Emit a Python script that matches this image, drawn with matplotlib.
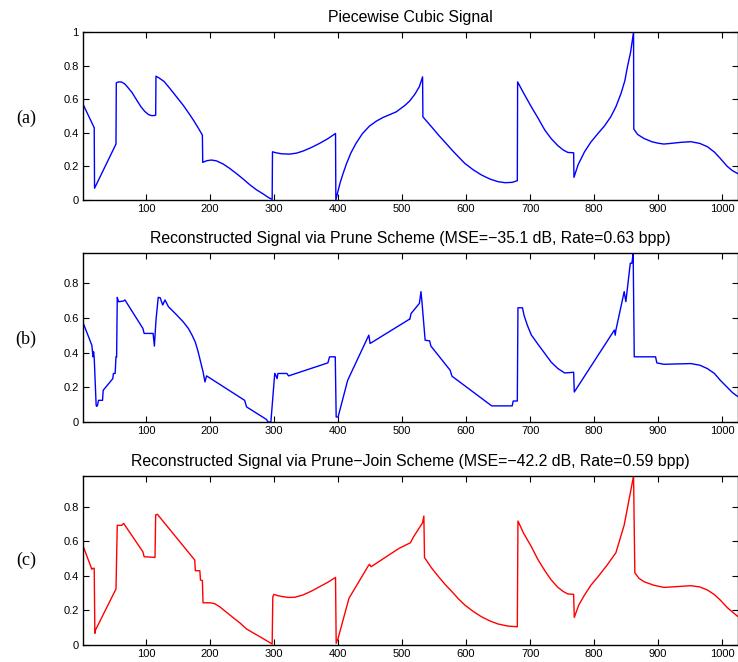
import matplotlib
matplotlib.use("Agg")
import matplotlib.pyplot as plt
from matplotlib.ticker import FixedLocator, FuncFormatter

# ---------------- data ----------------
orig_x = [1, 19, 19.5, 53, 53.5, 57, 62, 67, 72, 78, 85, 92, 98, 104, 109, 113, 115,
          115.5, 120, 128, 137, 147, 158, 167, 174, 181, 188,
          188.5, 195, 202, 210, 220, 230, 241, 252, 262, 272, 283, 291, 297,
          297.5, 303, 312, 324, 335, 345, 358, 371, 384, 396,
          396.5, 399, 403, 408, 413, 420, 428, 438, 449, 460, 470, 480, 491, 505, 512, 520, 527, 532,
          532.5, 545, 557, 568, 578, 588, 598, 611, 624, 637, 650, 661, 672, 680,
          680.5, 690, 702, 712, 723, 733, 743.5, 752, 759, 768,
          768.5, 775, 785, 795, 806, 816, 826, 834, 842, 848, 852, 857, 861.6,
          862, 868, 878, 890, 900, 909, 920, 935, 951, 965, 977, 988, 997, 1008, 1016, 1024]
orig_y = [0.574, 0.43, 0.07, 0.333, 0.697, 0.703, 0.702, 0.69, 0.668, 0.64, 0.597, 0.555, 0.527, 0.508, 0.502, 0.503, 0.505,
          0.737, 0.727, 0.706, 0.665, 0.617, 0.564, 0.515, 0.475, 0.432, 0.386,
          0.224, 0.234, 0.238, 0.233, 0.215, 0.19, 0.158, 0.124, 0.091, 0.062, 0.036, 0.015, 0.004,
          0.287, 0.281, 0.275, 0.273, 0.279, 0.291, 0.312, 0.337, 0.365, 0.396,
          0.0, 0.04, 0.1, 0.16, 0.215, 0.28, 0.337, 0.395, 0.44, 0.47, 0.491, 0.507, 0.525, 0.565, 0.59, 0.63, 0.675, 0.733,
          0.495, 0.44, 0.386, 0.34, 0.297, 0.257, 0.218, 0.18, 0.149, 0.125, 0.109, 0.103, 0.105, 0.115,
          0.703, 0.635, 0.554, 0.49, 0.416, 0.365, 0.323, 0.297, 0.283, 0.281,
          0.135, 0.21, 0.287, 0.345, 0.396, 0.44, 0.495, 0.555, 0.634, 0.71, 0.792, 0.88, 1.0,
          0.422, 0.39, 0.366, 0.347, 0.338, 0.333, 0.337, 0.343, 0.347, 0.337, 0.317, 0.285, 0.248, 0.2, 0.175, 0.158]

prune_x = [1, 15.3, 17, 18, 19, 22, 23, 24, 25.7, 32, 33, 48, 49, 51.7, 53, 54, 55, 57, 64.7,
           67, 95, 97, 111, 113, 115.5, 119, 122, 126, 129.6, 135, 148, 158, 166, 172, 177,
           181, 185, 189, 192, 194.5, 254, 257, 288, 290.6, 295, 301, 302.6, 304.7, 306, 320, 322.6,
           384, 386.7, 395.6, 397, 400, 415, 448, 450, 511, 512, 514, 527, 529.5, 531,
           536, 543, 545, 575, 578, 640, 672, 673.6, 680, 681, 688, 690.7, 696, 702, 704.7,
           712, 723, 733, 743.5, 754, 768, 769, 831.6, 833, 834, 847, 849.6, 856.5, 859, 861,
           862.7, 896, 898, 909, 930, 951, 965, 977, 988, 997, 1008, 1016, 1024]
prune_y = [0.578, 0.443, 0.376, 0.405, 0.37, 0.096, 0.09, 0.095, 0.125, 0.125, 0.183, 0.25,
           0.28, 0.28, 0.376, 0.376, 0.719, 0.694, 0.698, 0.704, 0.54, 0.511, 0.511,
           0.438, 0.588, 0.719, 0.717, 0.675, 0.704, 0.665, 0.617, 0.578, 0.54, 0.5, 0.46,
           0.41, 0.35, 0.29, 0.231, 0.266, 0.125, 0.087, 0.015, 0.0, 0.0, 0.28, 0.27, 0.25, 0.28,
           0.28, 0.266, 0.341, 0.376, 0.376, 0.029, 0.029, 0.241, 0.501, 0.453,
           0.592, 0.592, 0.626, 0.684, 0.752, 0.694, 0.472, 0.468, 0.438, 0.299,
           0.264, 0.093, 0.093, 0.121, 0.121, 0.659, 0.659, 0.613, 0.555, 0.501, 0.488,
           0.45, 0.395, 0.345, 0.308, 0.283, 0.287, 0.173, 0.53, 0.501, 0.53, 0.752, 0.694,
           0.916, 0.916, 0.973, 0.376, 0.376, 0.341, 0.333, 0.335, 0.337, 0.328, 0.308, 0.28,
           0.241, 0.2, 0.17, 0.148]

join_x = [1, 15.3, 17, 19, 20, 21, 53, 55, 62, 65, 95, 97, 114, 115, 117.7, 176, 177, 184,
          185, 188, 189, 200, 207, 215, 225, 236, 247, 257, 268, 278, 288, 297,
          298, 300, 305, 313, 322, 332, 345, 358, 371, 384, 396,
          397, 400, 417, 447, 449, 451.5, 495, 513, 518, 532, 534, 535,
          536, 546, 557, 567, 578, 588, 598, 611, 624, 637, 650, 665, 680,
          681, 690, 702, 712, 723, 733, 743.5, 752, 759, 768,
          769, 776, 785, 795, 806, 820, 834, 847, 861.6,
          863.6, 870, 878, 893, 909, 930, 951, 965, 977, 988, 997, 1008, 1016, 1024]
join_y = [0.578, 0.437, 0.443, 0.443, 0.066, 0.085, 0.323, 0.692, 0.692, 0.703, 0.539,
          0.51, 0.506, 0.752, 0.756, 0.491, 0.429, 0.429, 0.375, 0.372, 0.243, 0.243,
          0.238, 0.22, 0.19, 0.157, 0.125, 0.091, 0.067, 0.046, 0.024, 0.004,
          0.278, 0.292, 0.285, 0.279, 0.274, 0.275, 0.288, 0.31, 0.336, 0.362, 0.39,
          0.008, 0.037, 0.269, 0.456, 0.466, 0.452, 0.558, 0.591, 0.626, 0.707, 0.746, 0.506,
          0.5, 0.445, 0.394, 0.35, 0.307, 0.266, 0.23, 0.193, 0.162, 0.138, 0.12, 0.108, 0.104,
          0.717, 0.645, 0.568, 0.495, 0.429, 0.375, 0.332, 0.308, 0.294, 0.292,
          0.158, 0.23, 0.288, 0.345, 0.394, 0.46, 0.533, 0.694, 0.978,
          0.417, 0.385, 0.365, 0.345, 0.332, 0.337, 0.342, 0.335, 0.317, 0.29, 0.259, 0.215, 0.19, 0.165]

titles = ["Piecewise Cubic Signal",
          "Reconstructed Signal via Prune Scheme (MSE=\u221235.1 dB, Rate=0.63 bpp)",
          "Reconstructed Signal via Prune\u2212Join Scheme (MSE=\u221242.2 dB, Rate=0.59 bpp)"]
panel_labels = ["(a)", "(b)", "(c)"]
xticks = [100, 200, 300, 400, 500, 600, 700, 800, 900, 1000]
yticks_a = [0, 0.2, 0.4, 0.6, 0.8, 1.0]
yticks_bc = [0, 0.2, 0.4, 0.6, 0.8]

# ---------------- figure ----------------
plt.rcParams['font.family'] = ['Liberation Sans', 'DejaVu Sans']
fig = plt.figure(figsize=(7.38, 6.62), dpi=100)

W = 738.0
H = 662.0
left = 82.7 / W
width = (737.5 - 82.7) / W
boxes = [(32, 200), (253, 422), (476, 644.7)]
series = [(orig_x, orig_y, 'blue', 1.0, yticks_a),
          (prune_x, prune_y, 'blue', 0.975, yticks_bc),
          (join_x, join_y, 'red', 0.978, yticks_bc)]
label_y = [118, 339, 560]

def fmt(v, pos):
    if abs(v) < 1e-9:
        return "0"
    if abs(v - 1) < 1e-9:
        return "1"
    return f"{v:.1f}"

for i, ((top, bot), (sx, sy, col, ytop, yt)) in enumerate(zip(boxes, series)):
    ax = fig.add_axes([left, 1 - bot / H, width, (bot - top) / H])
    ax.plot(sx, sy, color=col, lw=1.0)
    ax.set_xlim(1, 1024)
    ax.set_ylim(0, ytop)
    ax.xaxis.set_major_locator(FixedLocator(xticks))
    ax.yaxis.set_major_locator(FixedLocator(yt))
    ax.yaxis.set_major_formatter(FuncFormatter(fmt))
    ax.tick_params(direction='in', length=4, width=0.8, labelsize=8,
                   top=True, right=True, pad=3, colors='black')
    for s in ax.spines.values():
        s.set_linewidth(1.0)
    ax.set_title(titles[i], fontsize=11.4, pad=7)
    fig.text(26 / W, 1 - label_y[i] / H, panel_labels[i], ha='center', va='center',
             fontsize=13, family=['Liberation Serif', 'DejaVu Serif'])

fig.savefig("out.png", dpi=100)
